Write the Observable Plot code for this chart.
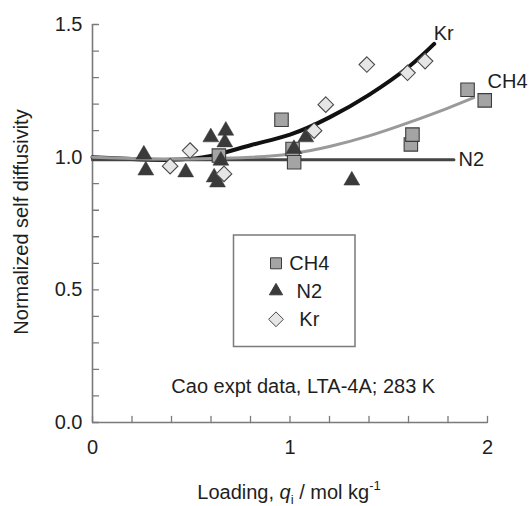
<!DOCTYPE html>
<html>
<head>
<meta charset="utf-8">
<script src="https://cdn.jsdelivr.net/npm/d3@7"></script>
<script src="https://cdn.jsdelivr.net/npm/@observablehq/plot@0.6"></script>
<style>
  html, body { margin: 0; padding: 0; background: #fff; }
  #chart svg { display: block; }
</style>
</head>
<body>
<div id="chart"></div>
<script>
// Measured points: normalized self diffusivity vs loading (mol/kg)
const ch4Loading = [0.64, 0.957, 1.013, 1.021, 1.612, 1.62, 1.899, 1.986];
const ch4Diff    = [1.006, 1.141, 1.031, 0.981, 1.048, 1.085, 1.254, 1.214];

const n2Loading = [0.26, 0.27, 0.472, 0.599, 0.616, 0.633, 0.65, 0.67, 0.675, 1.02, 1.08, 1.313];
const n2Diff    = [1.01, 0.95, 0.943, 1.075, 0.924, 0.905, 0.987, 1.056, 1.10, 1.031, 1.075, 0.912];

const krLoading = [0.393, 0.494, 0.666, 1.122, 1.181, 1.389, 1.595, 1.684];
const krDiff    = [0.966, 1.025, 0.937, 1.10, 1.198, 1.349, 1.318, 1.362];

// Model curves
const krCurveX  = [0, 0.2, 0.4, 0.6, 0.8, 1.0, 1.2, 1.4, 1.6, 1.73];
const krCurveY  = [1.0, 0.993, 0.99, 1.005, 1.045, 1.085, 1.15, 1.235, 1.34, 1.427];
const ch4CurveX = [0, 0.2, 0.4, 0.6, 0.8, 1.0, 1.2, 1.4, 1.6, 1.8, 1.93];
const ch4CurveY = [1.0, 0.995, 0.993, 0.995, 1.0, 1.012, 1.04, 1.08, 1.13, 1.185, 1.224];
const n2CurveX  = [0, 1.83];
const n2CurveY  = [0.99, 0.99];

// Curve-end labels
const curveNames  = ["Kr", "CH4", "N2"];
const curveLabelX = [1.728, 2.0, 1.853];
const curveLabelY = [1.466, 1.283, 0.99];

// Ticks
const xMajor = [0, 1, 2];
const xMinor = [0, 0.2, 0.4, 0.6, 0.8, 1.0, 1.2, 1.4, 1.6, 1.8, 2.0];
const yMajor = [0, 0.5, 1.0, 1.5];
const yMinor = [0, 0.1, 0.2, 0.3, 0.4, 0.5, 0.6, 0.7, 0.8, 0.9, 1.0, 1.1, 1.2, 1.3, 1.4, 1.5];

const note = "Cao expt data, LTA-4A; 283 K";
const noteX = 1.067, noteY = 0.137;

const legendNames = ["CH4", "N2", "Kr"];

const FONT = "'Liberation Sans', Arial, Helvetica, sans-serif";
const axisGray = "#7a7a7a";
const textColor = "#1e1e1e";

const sq  = {fill: "#a4a4a4", stroke: "#3c3c3c"};
const tri = {fill: "#3a3a3a", stroke: "#3a3a3a"};
const dia = {fill: "#e6e6e6", stroke: "#4a4a4a"};

// straight tick stroke used for the inward-pointing ticks
const tickShape = {draw(context, l) { context.moveTo(0, 0); context.lineTo(0, -l); }};

const plot = Plot.plot({
  width: 529,
  height: 506,
  marginLeft: 92,
  marginRight: 42,
  marginTop: 24,
  marginBottom: 84,
  style: {fontFamily: FONT, fontSize: "20px", color: textColor, background: "#fff", overflow: "visible"},
  x: {domain: [0, 2]},
  y: {domain: [0, 1.5]},
  marks: [
    // axis lines
    Plot.ruleY([0], {stroke: axisGray, strokeWidth: 1.6}),
    Plot.ruleX([0], {stroke: axisGray, strokeWidth: 1.6}),
    // inward ticks
    Plot.vector(xMinor, {x: xMinor, y: 0, length: 6, rotate: 0, anchor: "start", shape: tickShape, stroke: axisGray, strokeWidth: 1.3}),
    Plot.vector(yMinor, {x: 0, y: yMinor, length: 6, rotate: 90, anchor: "start", shape: tickShape, stroke: axisGray, strokeWidth: 1.3}),
    // tick labels
    Plot.axisX({ticks: xMajor, tickSize: 0, tickPadding: 17, tickFormat: d3.format("d"), fontSize: 20, fill: textColor, label: null}),
    Plot.axisY({ticks: yMajor, tickSize: 0, tickPadding: 10, tickFormat: d3.format(".1f"), fontSize: 20, fill: textColor, label: null}),

    // model curves
    Plot.line(krCurveX, {x: krCurveX, y: krCurveY, curve: "natural", stroke: "#111", strokeWidth: 4}),
    Plot.line(n2CurveX, {x: n2CurveX, y: n2CurveY, stroke: "#444", strokeWidth: 3}),
    Plot.line(ch4CurveX, {x: ch4CurveX, y: ch4CurveY, curve: "natural", stroke: "#9a9a9a", strokeWidth: 3}),

    // measured points
    Plot.dot(ch4Loading, {x: ch4Loading, y: ch4Diff, symbol: "square", r: 7.6, ...sq, strokeWidth: 1.1}),
    Plot.dot(n2Loading, {x: n2Loading, y: n2Diff, symbol: "triangle", r: 5.9, ...tri, strokeWidth: 0.5}),
    Plot.dot(krLoading, {x: krLoading, y: krDiff, symbol: "diamond2", r: 7.0, ...dia, strokeWidth: 1.1}),

    // labels
    Plot.text(curveNames, {x: curveLabelX, y: curveLabelY, text: d => d, textAnchor: "start", fontSize: 20, fill: textColor}),
    Plot.text([note], {x: [noteX], y: [noteY], text: d => d, fontSize: 20, fill: textColor})
  ]
});

const svg = d3.select(plot);

// legend box
const lg = svg.append("g").attr("font-family", FONT).attr("font-size", 20).attr("fill", textColor);
lg.append("rect")
  .attr("x", 233.5).attr("y", 235).attr("width", 121.5).attr("height", 111.5)
  .attr("fill", "#fff").attr("stroke", axisGray).attr("stroke-width", 1.5);
const legendSymbols = [
  {type: d3.symbolSquare, size: 121, style: sq},
  {type: d3.symbolTriangle, size: 75, style: tri},
  {type: d3.symbolDiamond2, size: 140, style: dia}
];
const rowY = [263.3, 291, 319.3];
legendNames.forEach((name, i) => {
  const s = legendSymbols[i];
  lg.append("path")
    .attr("transform", `translate(276,${rowY[i]})`)
    .attr("d", d3.symbol(s.type, s.size)())
    .attr("fill", s.style.fill).attr("stroke", s.style.stroke).attr("stroke-width", 1);
  lg.append("text").attr("x", 309.3).attr("y", rowY[i]).attr("dy", "0.35em").text(name);
});

// axis titles
const xt = svg.append("text")
  .attr("x", 289).attr("y", 499)
  .attr("text-anchor", "middle").attr("font-family", FONT).attr("font-size", 20).attr("fill", textColor);
xt.append("tspan").text("Loading, ");
xt.append("tspan").attr("font-style", "italic").text("q");
xt.append("tspan").attr("font-size", 13).attr("dy", 5).text("i");
xt.append("tspan").attr("dy", -5).text(" / mol kg");
xt.append("tspan").attr("font-size", 13).attr("dy", -9).text("-1");

svg.append("text")
  .attr("transform", "translate(28,222) rotate(-90)")
  .attr("text-anchor", "middle").attr("font-family", FONT).attr("font-size", 20).attr("fill", textColor)
  .text("Normalized self diffusivity");

document.getElementById("chart").append(plot);
</script>
</body>
</html>
